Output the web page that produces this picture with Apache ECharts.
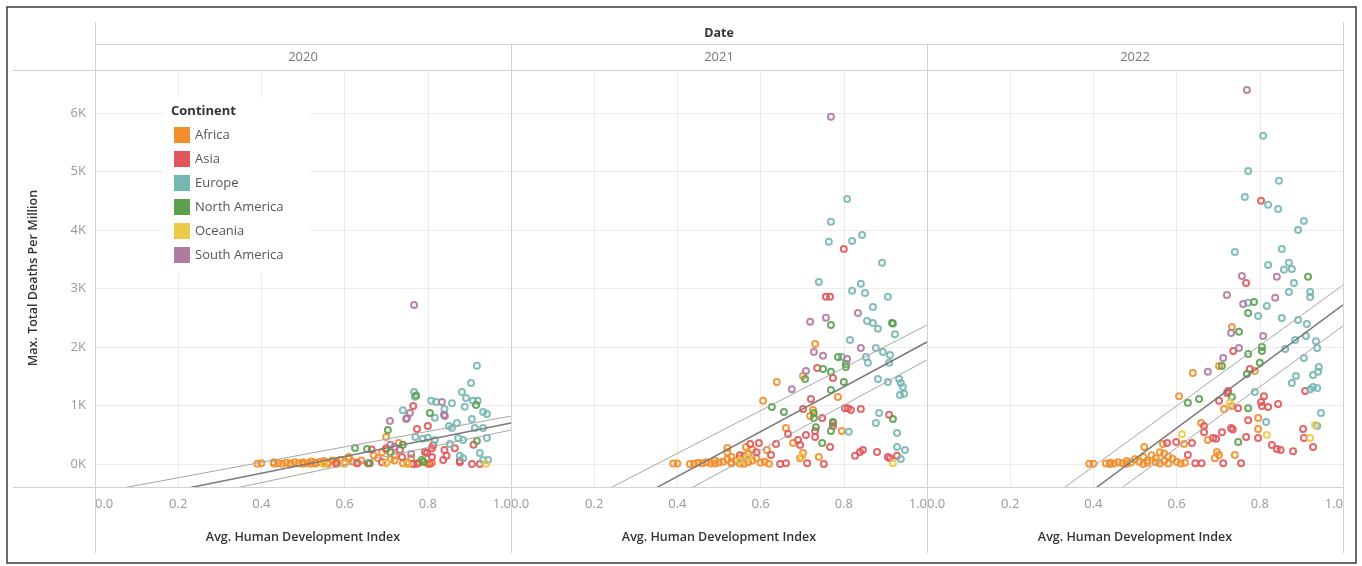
<!DOCTYPE html>
<html><head><meta charset="utf-8">
<script src="https://cdn.jsdelivr.net/npm/echarts@6/dist/echarts.min.js"></script>
<style>html,body{margin:0;padding:0;background:#fff}#c{width:1362px;height:566px}</style>
</head><body><div id="c"></div>
<script>
const years = ['2020', '2021', '2022'];
const continents = ['Africa', 'Asia', 'Europe', 'North America', 'Oceania', 'South America'];
const xTicks = [0, 0.2, 0.4, 0.6, 0.8, 1.0];
const yRange = [-393, 6735];

// [Avg. HDI, Max. total deaths per million]
const africa2020 = [[0.39,5],[0.40,12],[0.43,8],[0.43,30],[0.44,15],[0.45,6],[0.46,22],[0.47,10],[0.47,2],[0.48,28],[0.49,14],[0.50,32],[0.50,3],[0.51,12],[0.52,42],[0.52,6],[0.53,22],[0.53,8],[0.54,36],[0.55,12],[0.55,52],[0.56,26],[0.56,3],[0.57,62],[0.58,16],[0.58,46],[0.59,72],[0.60,30],[0.61,92],[0.61,120],[0.62,40],[0.63,22],[0.64,62],[0.66,12],[0.67,150],[0.69,200],[0.70,22],[0.70,250],[0.71,80],[0.70,460],[0.72,60],[0.73,360],[0.74,12],[0.75,32],[0.76,100],[0.78,25],[0.80,5],[0.81,20],[0.72,150],[0.68,100]];
const asia2020 = [[0.765,990],[0.774,600],[0.80,650],[0.793,205],[0.81,270],[0.84,240],[0.845,140],[0.837,70],[0.81,120],[0.877,50],[0.91,330],[0.906,0],[0.925,0],[0.656,15],[0.665,250],[0.70,270],[0.733,240],[0.75,0],[0.765,0],[0.63,15],[0.805,5],[0.738,120],[0.865,270],[0.774,5],[0.877,30],[0.798,190],[0.813,320],[0.60,10],[0.69,30],[0.58,5]];
const europe2020 = [[0.918,1680],[0.904,1385],[0.882,1230],[0.767,1230],[0.769,1150],[0.808,1080],[0.82,1060],[0.858,1040],[0.892,1130],[0.909,1080],[0.92,1080],[0.74,920],[0.84,940],[0.889,980],[0.817,790],[0.933,890],[0.942,855],[0.906,770],[0.87,700],[0.851,650],[0.858,615],[0.933,615],[0.942,445],[0.885,410],[0.873,445],[0.77,460],[0.788,430],[0.817,410],[0.853,340],[0.925,190],[0.933,70],[0.945,70],[0.877,140],[0.885,100],[0.913,615],[0.80,450]];
const northAmerica2020 = [[0.805,870],[0.704,580],[0.625,275],[0.654,255],[0.916,1010],[0.918,395],[0.786,70],[0.772,1170],[0.79,35],[0.66,15],[0.74,330],[0.71,200]];
const oceania2020 = [[0.94,5],[0.55,0],[0.60,5],[0.75,2],[0.70,10]];
const southAmerica2020 = [[0.767,2720],[0.709,735],[0.75,785],[0.757,870],[0.834,1060],[0.839,840],[0.748,770],[0.841,820],[0.72,290],[0.76,170],[0.71,330]];

const africa2021 = [[0.731,2050],[0.702,1505],[0.639,1400],[0.786,1145],[0.606,1080],[0.726,925],[0.719,820],[0.795,565],[0.661,615],[0.678,360],[0.615,240],[0.702,190],[0.695,100],[0.74,120],[0.52,275],[0.565,290],[0.39,10],[0.40,10],[0.44,5],[0.45,20],[0.46,15],[0.47,30],[0.48,10],[0.49,60],[0.50,25],[0.51,40],[0.52,80],[0.53,15],[0.53,120],[0.54,50],[0.55,90],[0.55,10],[0.56,140],[0.57,30],[0.57,170],[0.58,60],[0.59,100],[0.60,20],[0.61,40],[0.62,5],[0.52,200],[0.58,250],[0.53,30],[0.56,5],[0.43,2],[0.49,8]];
const asia2021 = [[0.80,3675],[0.757,2860],[0.767,2860],[0.736,1640],[0.774,1470],[0.721,1110],[0.702,940],[0.803,955],[0.81,955],[0.817,925],[0.841,940],[0.748,785],[0.909,840],[0.774,700],[0.774,650],[0.666,515],[0.731,565],[0.709,495],[0.731,460],[0.69,410],[0.695,325],[0.767,290],[0.839,205],[0.846,240],[0.827,140],[0.88,205],[0.906,120],[0.911,100],[0.928,140],[0.637,340],[0.575,340],[0.596,360],[0.625,155],[0.712,15],[0.752,0],[0.647,0],[0.661,15],[0.55,150],[0.59,200]];
const europe2021 = [[0.808,4530],[0.769,4140],[0.764,3800],[0.82,3810],[0.844,3915],[0.892,3440],[0.74,3110],[0.841,3080],[0.82,2960],[0.851,2925],[0.906,2860],[0.87,2685],[0.856,2445],[0.87,2410],[0.882,2310],[0.923,2220],[0.815,2120],[0.877,1985],[0.894,1915],[0.911,1865],[0.853,1830],[0.795,1830],[0.858,1730],[0.909,1730],[0.882,1455],[0.906,1400],[0.933,1455],[0.937,1385],[0.942,1315],[0.935,1180],[0.945,1200],[0.885,870],[0.877,700],[0.812,550],[0.928,530],[0.928,290],[0.947,240],[0.937,85]];
const northAmerica2021 = [[0.769,2375],[0.916,2410],[0.918,2400],[0.786,1830],[0.805,1710],[0.805,1660],[0.75,1625],[0.769,1575],[0.707,1455],[0.80,1400],[0.769,1265],[0.627,975],[0.656,890],[0.728,870],[0.728,785],[0.918,770],[0.774,720],[0.733,630],[0.769,565],[0.748,360]];
const oceania2021 = [[0.918,15],[0.55,60],[0.57,110],[0.70,120]];
const southAmerica2021 = [[0.769,5934],[0.757,2500],[0.719,2430],[0.834,2580],[0.728,1915],[0.75,1850],[0.841,1985],[0.808,1795],[0.709,1590],[0.675,1280]];

const africa2022 = [[0.733,2340],[0.702,1675],[0.639,1555],[0.788,1590],[0.606,1160],[0.733,990],[0.714,940],[0.796,785],[0.796,600],[0.659,700],[0.675,410],[0.697,205],[0.702,155],[0.692,100],[0.74,155],[0.618,340],[0.567,340],[0.522,290],[0.39,5],[0.40,5],[0.43,10],[0.44,20],[0.45,10],[0.46,30],[0.47,15],[0.48,50],[0.49,25],[0.50,80],[0.51,40],[0.52,120],[0.53,20],[0.53,60],[0.54,150],[0.55,30],[0.55,100],[0.56,200],[0.57,50],[0.58,130],[0.58,10],[0.59,90],[0.60,40],[0.61,10],[0.62,20],[0.52,0],[0.48,3],[0.56,8],[0.44,2],[0.57,180]];
const asia2022 = [[0.803,4500],[0.767,3095],[0.736,1930],[0.776,1625],[0.909,1250],[0.724,1250],[0.721,1215],[0.81,1160],[0.803,1060],[0.805,990],[0.82,975],[0.844,1025],[0.702,1080],[0.748,955],[0.772,750],[0.904,600],[0.906,445],[0.928,290],[0.88,220],[0.841,255],[0.85,240],[0.829,325],[0.796,445],[0.767,460],[0.731,615],[0.735,590],[0.709,545],[0.688,445],[0.695,430],[0.666,545],[0.666,650],[0.712,15],[0.755,15],[0.645,15],[0.66,15],[0.627,155],[0.637,360],[0.599,375],[0.577,360]];
const europe2022 = [[0.808,5610],[0.772,5010],[0.846,4840],[0.764,4565],[0.82,4430],[0.844,4360],[0.906,4155],[0.892,4000],[0.74,3625],[0.853,3675],[0.82,3400],[0.87,3440],[0.858,3320],[0.877,3335],[0.882,3095],[0.87,2940],[0.921,2940],[0.921,2855],[0.772,2755],[0.817,2700],[0.796,2530],[0.853,2495],[0.892,2460],[0.913,2395],[0.911,2190],[0.885,2120],[0.935,2100],[0.938,1985],[0.861,1965],[0.906,1810],[0.942,1660],[0.94,1575],[0.928,1520],[0.887,1505],[0.877,1385],[0.928,1315],[0.938,1300],[0.921,1280],[0.788,1230],[0.815,720],[0.947,870],[0.938,650]];
const northAmerica2022 = [[0.916,3200],[0.786,2770],[0.772,2580],[0.75,2260],[0.805,2000],[0.805,1930],[0.772,1880],[0.709,1675],[0.80,1730],[0.769,1540],[0.733,1145],[0.654,1110],[0.627,1045],[0.772,955],[0.748,375]];
const oceania2022 = [[0.728,1045],[0.933,665],[0.921,445],[0.817,495],[0.613,510]];
const southAmerica2022 = [[0.769,6395],[0.757,3215],[0.841,3200],[0.721,2890],[0.837,2840],[0.76,2735],[0.731,2240],[0.808,2190],[0.75,1985],[0.712,1810],[0.675,1575]];

// trend line values at HDI 0 and HDI 1, per year
const trendMid   = [[-730, 700], [-1745, 2085], [-2547, 2720]];
const trendUpper = [[-498, 820], [-1282, 2376], [-2109, 3060]];
const trendLower = [[-917, 580], [-2087, 1780], [-2844, 2360]];

const byYear = [
  [africa2020, asia2020, europe2020, northAmerica2020, oceania2020, southAmerica2020],
  [africa2021, asia2021, europe2021, northAmerica2021, oceania2021, southAmerica2021],
  [africa2022, asia2022, europe2022, northAmerica2022, oceania2022, southAmerica2022]
];
const palette = ['#F28E2B', '#E15759', '#76B7B2', '#59A14F', '#EDC948', '#B07AA1'];

const FONT = '"Open Sans", "Noto Sans", sans-serif';
const panelLeft = [95, 511, 927];
const panelW = 416, gridTop = 70, gridH = 417;

const grids = [], xAxes = [], yAxes = [], series = [];
years.forEach((y, i) => {
  grids.push({ left: panelLeft[i], top: gridTop, width: panelW, height: gridH, containLabel: false });
  xAxes.push({
    type: 'value', gridIndex: i, min: xTicks[0], max: xTicks[xTicks.length - 1], interval: 0.2,
    axisLine: { show: false }, axisTick: { show: false },
    axisLabel: { color: '#999', fontSize: 13, fontFamily: FONT, margin: 11,
      alignMinLabel: 'left', alignMaxLabel: 'right',
      formatter: v => v.toFixed(1) },
    splitLine: { show: true, lineStyle: { color: '#ececec', width: 1 } }
  });
  yAxes.push({
    type: 'value', gridIndex: i, min: yRange[0], max: yRange[1], splitNumber: 7,
    axisLine: { show: false }, axisTick: { show: false },
    axisLabel: { show: i === 0, color: '#999', fontSize: 13, fontFamily: FONT, margin: 9,
      showMinLabel: false, showMaxLabel: false,
      formatter: v => (v / 1000) + 'K' },
    splitLine: { show: true, lineStyle: { color: '#ededed', width: 1 } }
  });
  continents.forEach((c, k) => {
    series.push({
      type: 'scatter', name: c, xAxisIndex: i, yAxisIndex: i,
      data: byYear[i][k], symbol: 'circle', symbolSize: 6, z: 3,
      itemStyle: { color: 'rgba(255,255,255,0)', borderColor: palette[k], borderWidth: 2, opacity: 0.9 },
      emphasis: { disabled: true }
    });
  });
  [[trendUpper, '#a6a6a6', 1], [trendLower, '#a6a6a6', 1], [trendMid, '#7a7a7a', 1.5]].forEach(([arr, col, w]) => {
    series.push({
      type: 'line', xAxisIndex: i, yAxisIndex: i, symbol: 'none', silent: true, clip: true, z: 5,
      data: [[xTicks[0], arr[i][0]], [xTicks[xTicks.length - 1], arr[i][1]]],
      lineStyle: { color: col, width: w }
    });
  });
});

const lineEl = (x1, y1, x2, y2, col) => ({ type: 'line', z: 6, silent: true,
  shape: { x1, y1, x2, y2 }, style: { stroke: col || '#d2d2d2', lineWidth: 1 } });
const textEl = (x, y, text, o) => ({ type: 'text', x, y, z: 7, silent: true, rotation: (o && o.rot) || 0,
  style: Object.assign({ text, fontFamily: FONT, fontSize: 13, fill: '#777', align: 'center', verticalAlign: 'middle' }, (o && o.style) || {}) });

const graphic = [
  { type: 'rect', z: 1, silent: true, shape: { x: 163, y: 97, width: 147, height: 177 }, style: { fill: '#fff' } },
  lineEl(95, 44.5, 1343, 44.5),
  lineEl(13, 70.5, 1343, 70.5),
  lineEl(13, 487.5, 1343, 487.5),
  lineEl(95.5, 22, 95.5, 553),
  lineEl(511.5, 44, 511.5, 553),
  lineEl(927.5, 44, 927.5, 553),
  lineEl(1343.5, 22, 1343.5, 553),
  { type: 'rect', z: 8, silent: true, shape: { x: 7, y: 7, width: 1349, height: 556 }, style: { fill: null, stroke: '#3a3a3a', lineWidth: 1.5 } },
  textEl(719, 33, 'Date', { style: { fill: '#333', fontWeight: 'bold', fontSize: 12.5 } }),
  textEl(171, 111, 'Continent', { style: { fill: '#333', fontWeight: 'bold', align: 'left' } }),
  textEl(33, 278, 'Max. Total Deaths Per Million', { rot: Math.PI / 2, style: { fill: '#333', fontWeight: 600, fontSize: 12.5 } })
];
years.forEach((y, i) => {
  graphic.push(textEl(panelLeft[i] + panelW / 2, 57, y, { style: { fill: '#777' } }));
  graphic.push(textEl(panelLeft[i] + panelW / 2, 537, 'Avg. Human Development Index', { style: { fill: '#333', fontWeight: 600, fontSize: 12.5 } }));
});

const chart = echarts.init(document.getElementById('c'), null, { renderer: 'canvas' });
chart.setOption({
  animation: false,
  backgroundColor: '#fff',
  grid: grids, xAxis: xAxes, yAxis: yAxes, series,
  legend: {
    left: 174, top: 127, orient: 'vertical', icon: 'rect', itemWidth: 16, itemHeight: 16, itemGap: 8,
    padding: 0, z: 4, selectedMode: false,
    textStyle: { color: '#555', fontSize: 13, fontFamily: FONT },
    data: continents.map((c, k) => ({ name: c, itemStyle: { color: palette[k], borderWidth: 0, opacity: 1 } }))
  },
  graphic
});
</script></body></html>
